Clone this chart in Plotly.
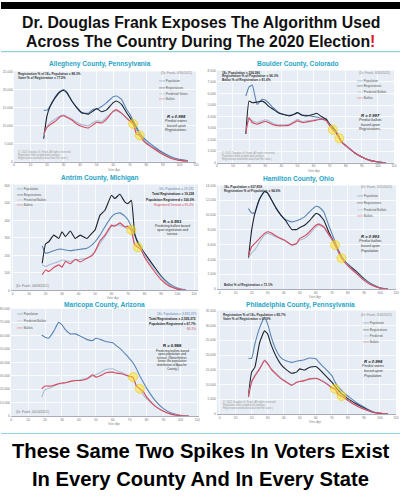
import plotly.graph_objects as go

W, H = 403, 500
AGES = [18, 20, 22, 25, 28, 30, 32, 35, 38, 41, 45, 48, 50, 53, 56, 60, 62, 65, 68, 70,
        72, 74, 76, 78, 80, 85, 90, 95, 100, 105]
X_TICKS = list(range(0, 111, 10))

# ---- Allegheny County, Pennsylvania
alleg_pop = [14270, 14270, 15450, 18000, 19540, 20000, 19270, 16820, 15000, 13450, 13450, 14540, 14540, 15270,
             16360, 18000, 18180, 17270, 14540, 13180, 11360, 9730, 7910, 6820, 5910, 4090, 2550, 1360, 640, 270]
alleg_reg = [6360, 12730, 15450, 17730, 19360, 19730, 19090, 16820, 15000, 13640, 13180, 14090, 14730, 13820,
             14360, 16360, 16820, 15910, 13640, 12270, 10910, 9090, 7270, 6360, 5270, 3640, 2270, 1090, 450, 180]
alleg_pred = [7270, 9540, 10910, 11820, 12730, 12910, 12540, 11820, 10910, 10270, 10000, 10910, 11360, 11180,
              12270, 13820, 14090, 13360, 12270, 11360, 10450, 8910, 7270, 6360, 5270, 3640, 2180, 1090, 450, 180]
alleg_bal = [7730, 9540, 10270, 11180, 12450, 12730, 12270, 11540, 10450, 9730, 9360, 10270, 10910, 10730,
             11820, 14000, 14360, 13450, 12090, 11270, 10450, 7730, 7270, 5910, 5000, 3450, 2000, 910, 360, 180]
alleg_yticks = [0, 5000, 10000, 15000, 20000, 25000]

# ---- Boulder County, Colorado
bould_pop = [5770, 6570, 6740, 5060, 5490, 5430, 5200, 4770, 4400, 4200, 4110, 4200, 4340, 4140, 4110, 4000,
             3970, 3830, 3710, 3290, 3000, 2630, 2140, 1710, 1490, 910, 490, 200, 60, 0]
bould_reg = [2490, 5340, 5200, 5260, 5340, 5200, 4910, 4630, 4340, 4200, 4060, 4200, 4340, 4110, 4060, 4200,
             4290, 4000, 3770, 3340, 3060, 2690, 2200, 1710, 1490, 910, 490, 200, 60, 0]
bould_pred = [2770, 3770, 3630, 3490, 3630, 3710, 3630, 3400, 3290, 3290, 3340, 3570, 3770, 3570, 3630, 3690,
              3770, 3770, 3630, 3260, 2910, 2630, 2140, 1710, 1490, 910, 490, 200, 60, 0]
bould_bal = [2630, 3910, 3490, 3340, 3490, 3570, 3490, 3290, 3200, 3200, 3260, 3490, 3630, 3490, 3540, 3630,
             3710, 3770, 3630, 3200, 2860, 2570, 2110, 1710, 1490, 910, 490, 200, 60, 0]
bould_yticks = [0, 1000, 2000, 3000, 4000, 5000, 6000, 7000, 8000]

# ---- Antrim County, Michigan
antrim_pop = [254, 212, 216, 227, 235, 235, 231, 227, 231, 235, 241, 259, 278, 316, 364, 420, 436, 443, 424,
              402, 364, 316, 278, 241, 212, 146, 83, 38, 13, 2]
antrim_reg = [155, 265, 278, 316, 297, 335, 307, 339, 297, 316, 297, 326, 345, 430, 458, 544, 525, 549, 506,
              496, 515, 326, 269, 241, 212, 146, 80, 32, 8, 0]
antrim_pred = [146, 136, 146, 155, 165, 174, 170, 165, 174, 178, 184, 203, 222, 269, 307, 364, 373, 373, 360,
               354, 345, 265, 254, 235, 203, 136, 76, 32, 9, 0]
antrim_bal = [89, 117, 108, 131, 146, 133, 165, 152, 178, 163, 184, 197, 222, 284, 316, 373, 367, 386, 364,
              367, 345, 259, 246, 231, 189, 121, 61, 23, 8, 0]
antrim_yticks = [0, 100, 200, 300, 400, 500, 600]

# ---- Hamilton County, Ohio
hamil_pop = [10870, 10290, 10290, 12210, 13200, 12970, 12210, 11010, 10070, 9400, 9080, 9220, 9400, 9750,
             10420, 11190, 11100, 10420, 8630, 7520, 6400, 5280, 4470, 3850, 3360, 2460, 1430, 630, 180, 0]
hamil_reg = [4160, 7960, 10200, 12210, 13200, 12970, 12210, 11010, 10070, 9310, 8050, 8050, 8320, 8630,
             9220, 10200, 10070, 9310, 7740, 6850, 5950, 5060, 4300, 3710, 3270, 2370, 1340, 580, 130, 0]
hamil_pred = [4160, 4920, 5280, 6400, 7290, 7520, 7380, 7070, 6760, 6530, 5950, 6080, 6620, 6850, 7380,
              8410, 8630, 8320, 7290, 6620, 5950, 4920, 4300, 3710, 3180, 2240, 1250, 540, 130, 0]
hamil_bal = [4470, 5730, 6170, 6850, 7520, 7740, 7610, 7200, 6850, 6530, 5950, 6170, 6850, 7160, 7740,
             8630, 8770, 8410, 7430, 6850, 5950, 5190, 4160, 3620, 3130, 2150, 1160, 490, 130, 0]
hamil_yticks = [0, 2000, 4000, 6000, 8000, 10000, 12000, 14000]

# ---- Maricopa County, Arizona
maric_pop = [60500, 58800, 58000, 63000, 69900, 68000, 64500, 61300, 61300, 59500, 57000, 56300, 58000,
             57000, 55600, 54600, 52600, 49600, 45600, 42700, 39700, 35200, 29800, 25300, 20800, 11700,
             5500, 2000, 500, 0]
maric_pred = [14100, 19800, 20300, 22300, 24100, 24100, 24800, 25800, 26300, 27000, 28300, 29800, 30800,
              32700, 34700, 35200, 34000, 32700, 30800, 29800, 28300, 22300, 20300, 15900, 12900, 7400,
              3500, 1200, 200, 0]
maric_bal = [20300, 22300, 22300, 22800, 24100, 24600, 24800, 25800, 26500, 26500, 27800, 30800, 29000,
             30300, 32200, 32700, 32000, 31500, 30300, 29500, 29000, 22300, 20300, 18400, 14100, 7400,
             3500, 1200, 200, 0]
maric_yticks = [0, 10000, 20000, 30000, 40000, 50000, 60000, 70000, 80000]

# ---- Philadelphia County, Pennsylvania
phil_pop = [18900, 18900, 23700, 29300, 32700, 30500, 26500, 22000, 19200, 18100, 17500, 17900, 18100,
            18400, 19000, 18700, 17500, 15800, 14200, 13000, 10800, 9100, 8000, 6900, 6100, 4000, 2400,
            900, 200, 0]
phil_reg = [6300, 14200, 15800, 24300, 28200, 27100, 23700, 19800, 17000, 15300, 13800, 14200, 15300,
            14900, 15800, 16100, 15300, 13600, 11900, 10800, 9400, 8000, 6900, 6100, 5200, 3500, 2000,
            700, 200, 0]
phil_pred = [6000, 11200, 13200, 15600, 18300, 17300, 15600, 13900, 12300, 11200, 9900, 10600, 11100,
             11300, 11800, 12000, 11900, 11000, 9900, 9000, 8400, 7000, 6200, 5500, 4700, 3000, 1700,
             700, 200, 0]
phil_bal = [5700, 10800, 12800, 15300, 18100, 17000, 15300, 13600, 12100, 11000, 9700, 10800, 11000,
            11400, 11900, 12100, 11700, 10800, 9700, 8800, 8500, 6500, 6100, 5400, 4600, 2900, 1600,
            700, 200, 0]
phil_yticks = [0, 5000, 10000, 15000, 20000, 25000, 30000, 35000]

C_POP, C_REG, C_PRED, C_BAL = '#5b84b6', '#1c2230', '#a7bcd6', '#d9475b'
TEAL = '#27a4c6'
SANS = "Liberation Sans, Arial, sans-serif"

panels = [
    dict(title='Allegheny County, Pennsylvania', tx=100, ty=62, box=(13, 70, 197, 161), xr=[0, 110],
         yr=[0, 25000], yt=alleg_yticks,
         series=[('Population', alleg_pop, C_POP), ('Registrations', alleg_reg, C_REG),
                 ('Predicted Voters', alleg_pred, C_PRED), ('Ballots', alleg_bal, C_BAL)],
         spikes=alleg_bal),
    dict(title='Boulder County, Colorado', tx=300, ty=62, box=(218, 69, 397, 162), xr=[0, 110],
         yr=[0, 8000], yt=bould_yticks,
         series=[('Population', bould_pop, C_POP), ('Registrations', bould_reg, C_REG),
                 ('Predicted Ballots', bould_pred, C_PRED), ('Ballots', bould_bal, C_BAL)],
         spikes=bould_bal),
    dict(title='Antrim County, Michigan', tx=100, ty=177, box=(10, 184, 199, 290.7), xr=[-1, 112.4],
         yr=[0, 605], yt=antrim_yticks,
         series=[('Population', antrim_pop, C_POP), ('Registrations', antrim_reg, C_REG),
                 ('Predicted Ballots', antrim_pred, C_PRED), ('Ballots', antrim_bal, C_BAL)],
         spikes=antrim_bal),
    dict(title='Hamilton County, Ohio', tx=300, ty=178, box=(218, 185, 399, 289.3), xr=[-1.7, 110],
         yr=[0, 14000], yt=hamil_yticks,
         series=[('Population', hamil_pop, C_POP), ('Registrations', hamil_reg, C_REG),
                 ('Predicted Ballots', hamil_pred, C_PRED), ('Ballots', hamil_bal, C_BAL)],
         spikes=hamil_bal),
    dict(title='Maricopa County, Arizona', tx=105, ty=305, box=(10, 309.3, 200, 417.3), xr=[-0.2, 111],
         yr=[0, 80000], yt=maric_yticks,
         series=[('Population', maric_pop, C_POP), ('Predicted Ballots', maric_pred, C_PRED),
                 ('Ballots', maric_bal, C_BAL)],
         spikes=maric_bal),
    dict(title='Philadelphia County, Pennsylvania', tx=303, ty=305, box=(218, 311, 399, 415.3),
         xr=[-1.7, 110], yr=[0, 35100], yt=phil_yticks,
         series=[('Population', phil_pop, C_POP), ('Registrations', phil_reg, C_REG),
                 ('Predicted', phil_pred, C_PRED), ('Ballots', phil_bal, C_BAL)],
         spikes=phil_bal),
]


def fx(px):
    return px / W


def fy(py):
    return 1 - py / H


fig = go.Figure()
annotations = []
layout_axes = {}
i72 = AGES.index(72)
i76 = AGES.index(76)


def text_at(text, x, y, size, color, xanchor='center'):
    annotations.append(dict(text=text, x=fx(x), y=fy(y), xref='paper', yref='paper', showarrow=False,
                            xanchor=xanchor, yanchor='middle',
                            font=dict(size=size, color=color, family=SANS)))


for i, p in enumerate(panels, start=1):
    xs = '' if i == 1 else str(i)
    x0, y0, x1, y1 = p['box']
    layout_axes['xaxis' + xs] = dict(
        domain=[fx(x0), fx(x1)], range=p['xr'], anchor='y' + xs, tickvals=X_TICKS,
        tickfont=dict(size=3.3, color='#777', family=SANS), showgrid=True,
        gridcolor='rgba(255,255,255,0.75)', gridwidth=0.5, showline=True, linecolor='#aab',
        linewidth=0.6, zeroline=False, ticks='', fixedrange=True)
    layout_axes['yaxis' + xs] = dict(
        domain=[fy(y1), fy(y0)], range=p['yr'], anchor='x' + xs, tickvals=p['yt'],
        ticktext=[f'{v:,}' for v in p['yt']],
        tickfont=dict(size=3.3, color='#777', family=SANS), showgrid=True,
        gridcolor='rgba(255,255,255,0.75)', gridwidth=0.5, zeroline=False, ticks='', fixedrange=True)
    for name, vals, col in p['series']:
        fig.add_trace(go.Scatter(x=AGES, y=vals, mode='lines', name=name,
                                 line=dict(color=col, width=1.1, shape='spline', smoothing=0.4),
                                 xaxis='x' + xs, yaxis='y' + xs, showlegend=False))
    sp = p['spikes']
    fig.add_trace(go.Scatter(x=[AGES[i72], AGES[i76]], y=[sp[i72], sp[i76]], mode='markers',
                             marker=dict(size=9, color='rgba(255,228,40,0.55)',
                                         line=dict(color='rgba(235,200,0,0.7)', width=0.8)),
                             xaxis='x' + xs, yaxis='y' + xs, showlegend=False))
    text_at('<b>' + p['title'] + '</b>', p['tx'], p['ty'], 6.6, TEAL)
    text_at('Voter Age', x0 + (x1 - x0) * 0.55, y1 + 8, 2.8, '#888')

fig.update_layout(**layout_axes)


def note(text, x, y, size=3.2, color='#444', xanchor='left', bold=False, italic=False):
    t = text
    if bold:
        t = '<b>' + t + '</b>'
    if italic:
        t = '<i>' + t + '</i>'
    text_at(t, x, y, size, color, xanchor)


def legend(items, x, ys):
    for (label, col), y in zip(items, ys):
        note(f"<span style='color:{col}'>━━━</span> {label}", x, y, size=3.0, color='#555')


COPY = ['(© 2021 Douglas G. Frank. All rights reserved.',
        'Population from established analysis.',
        'Registration and ballot data from the state.)']

# Allegheny
note('Registration % of 18+ Population = 88.3%', 15, 72.5, bold=True, color='#333')
note('Voter % of Registration = 77.5%', 15, 77, bold=True, color='#333')
note('(Dr. Frank, 6/30/2021)', 195, 72, xanchor='right', color='#888')
legend([('Population', C_POP), ('Registrations', C_REG), ('Predicted Voters', C_PRED), ('Ballots', C_BAL)],
       157, [80, 86.5, 92.5, 98])
note('R = 0.998', 177, 115, size=4.2, bold=True, italic=True, xanchor='center', color='#111')
for k, t in enumerate(['Predict voters', 'based upon', 'Registrations.']):
    note(t, 177, 120 + 4.5 * k, size=3.6, italic=True, xanchor='center', color='#333')
for k, t in enumerate(COPY):
    note(t, 15, 151 + 3 * k, size=2.6, color='#999')

# Boulder
note('18+ Population = 254,386', 221, 71.5, bold=True, color='#333')
note('Registration % of Population = 96.3%', 221, 75, bold=True, color='#333')
note('Ballot % of Registration = 81.6%', 221, 78.5, bold=True, color='#333')
note('(Dr. Frank, 6/30/2021)', 395, 71.5, xanchor='right', color='#888')
legend([('Population', C_POP), ('Registrations', C_REG), ('Predicted Ballots', C_PRED), ('Ballots', C_BAL)],
       357, [79.5, 85, 91, 96.5])
note('R = 0.997', 373, 114, size=4.2, bold=True, italic=True, xanchor='center', color='#111')
for k, t in enumerate(['Predict ballots', 'based upon', 'Registrations.']):
    note(t, 373, 119 + 4.5 * k, size=3.6, italic=True, xanchor='center', color='#333')
for k, t in enumerate(COPY):
    note(t, 221, 152 + 3 * k, size=2.6, color='#999')

# Antrim
legend([('Population', C_POP), ('Registrations', C_REG), ('Predicted Ballots', C_PRED), ('Ballots', C_BAL)],
       13, [189, 194.5, 200, 205])
note('18+ Population = 19,232', 197, 189, xanchor='right', color='#5b84b6')
note('Total Registrations = 19,228', 197, 194, xanchor='right', bold=True, color='#222')
note('Population Registered = 100.0%', 197, 199.5, xanchor='right', bold=True, color='#222')
note('Registered Turnout = 81.4%', 197, 205, xanchor='right', color=C_BAL)
note('R = 0.993', 173, 221, size=4.2, bold=True, xanchor='center', color='#111')
for k, t in enumerate(['Predicting ballots based', 'upon registration and', 'turnout.']):
    note(t, 173, 226 + 4 * k, size=3.3, xanchor='center', color='#333')
note('(Dr. Frank, 06/08/2021)', 13, 286.5, color='#777')

# Hamilton
note('18+ Population = 637,858', 223, 186.5, bold=True, color='#333')
note('Registration % of Population = 94.6%', 223, 190.5, bold=True, color='#333')
note('(Dr. Frank, 5/25/2021)', 397, 186.5, xanchor='right', color='#888')
legend([('Population', C_POP), ('Registrations', C_REG), ('Predicted Ballots', C_PRED), ('Ballots', C_BAL)],
       357, [196, 203, 209.5, 216])
note('R = 0.993', 373, 236, size=4.2, bold=True, italic=True, xanchor='center', color='#111')
for k, t in enumerate(['Predict ballots', 'based upon', 'Population.']):
    note(t, 373, 241 + 4.8 * k, size=3.6, italic=True, xanchor='center', color='#333')
note('Ballot % of Registration = 73.1%', 223, 285.5, bold=True, color='#333')

# Maricopa
legend([('Population', C_POP), ('Predicted Ballots', C_PRED), ('Ballots', C_BAL)], 13, [315, 322, 329])
note('18+ Population = 3,831,375', 199, 315, xanchor='right', color='#5b84b6')
note('Total Registrations = 2,595,272', 199, 320, xanchor='right', bold=True, color='#222')
note('Population Registered = 67.7%', 199, 325, xanchor='right', bold=True, color='#222')
note('80.1%', 199, 330, xanchor='right', color=C_BAL)
note('R = 0.988', 173, 346, size=4.2, bold=True, xanchor='center', color='#111')
for k, t in enumerate(['Predicting ballots based', 'upon population and', 'turnout. (Nonetheless',
                       'know: the population', 'distribution of Apache', 'County.)']):
    note(t, 173, 351.5 + 3.6 * k, size=3.1, xanchor='center', color='#333')
note('(Dr. Frank, 04/14/2021)', 13, 413, color='#777')

# Philadelphia
note('Registration % of 18+ Population = 85.7%', 222, 316, bold=True, color='#333')
note('Voter % of Registration = 67.9%', 222, 320, bold=True, color='#333')
note('(Dr. Frank, 6/30/2021)', 397, 315.5, xanchor='right', color='#888')
legend([('Population', C_POP), ('Registrations', C_REG), ('Predicted', C_PRED), ('Ballots', C_BAL)],
       363, [324, 330.5, 337, 343])
note('R = 0.998', 376, 362, size=4.2, bold=True, italic=True, xanchor='center', color='#111')
for k, t in enumerate(['Predict voters', 'based upon', 'Population.']):
    note(t, 376, 367 + 4.8 * k, size=3.6, italic=True, xanchor='center', color='#333')
for k, t in enumerate(COPY):
    note(t, 222, 403.5 + 3 * k, size=2.6, color='#999')

# Headline and footer
text_at('<b>Dr. Douglas Frank Exposes The Algorithm Used</b>', W / 2, 21, 15.8, '#111')
text_at("<b>Across The Country During The 2020 Election<span style='color:#e0151d'>!</span></b>",
        W / 2, 40, 15.8, '#111')
text_at('<b>These Same Two Spikes In Voters Exist</b>', W / 2, 453, 20.2, '#000')
text_at('<b>In Every County And In Every State</b>', W / 2, 481, 20.2, '#000')

shapes = [
    dict(type='rect', xref='paper', yref='paper', x0=0, x1=1, y0=fy(7), y1=1,
         fillcolor='#000', line=dict(width=0), layer='above'),
    dict(type='line', xref='paper', yref='paper', x0=0, x1=1, y0=fy(50), y1=fy(50),
         line=dict(color='#8fd3e0', width=1.2)),
    dict(type='line', xref='paper', yref='paper', x0=0, x1=1, y0=fy(435), y1=fy(435),
         line=dict(color='#8fd3e0', width=1.2)),
]

fig.update_layout(
    width=W, height=H, margin=dict(l=0, r=0, t=0, b=0),
    paper_bgcolor='#ffffff', plot_bgcolor='#e7edf4',
    annotations=annotations, shapes=shapes, showlegend=False,
    font=dict(family=SANS),
)

fig.write_html('out.html', config={'displayModeBar': False})
